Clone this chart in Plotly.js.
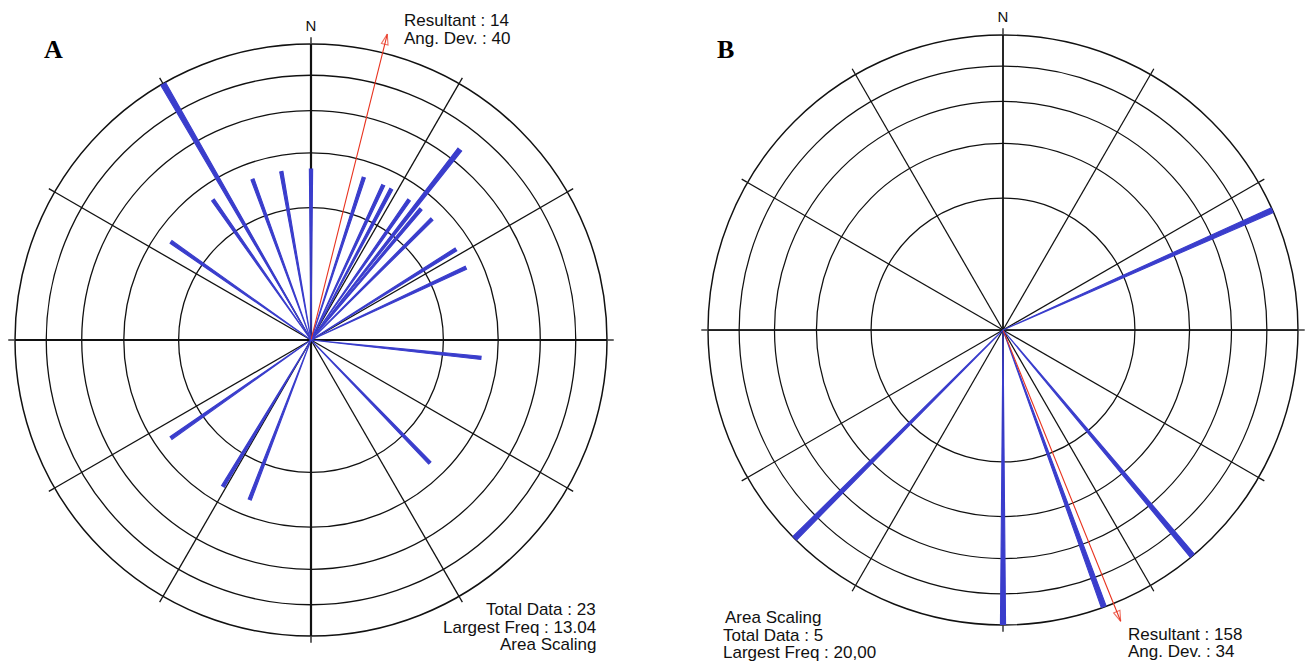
<!DOCTYPE html>
<html>
<head>
<meta charset="utf-8">
<script src="https://cdn.plot.ly/plotly-3.0.1.min.js"></script>
<style>html,body{margin:0;padding:0;background:#fff;}#chart{width:1306px;height:661px;}</style>
</head>
<body>
<div id="chart"></div>
<script>
// ---- Rose diagram A ----
const dirA = [0, 18, 25, 28, 35, 38, 40, 45, 58, 65, 96, 136, 201, 211, 235, 305, 325, 330, 340, 350];
const countA = [1, 1, 1, 1, 1, 2, 1, 1, 1, 1, 1, 1, 1, 1, 1, 1, 1, 3, 1, 1];
const totalA = 23;
const largestFreqA = 13.04;
const resultantA = 14;
const angDevA = 40;

// ---- Rose diagram B ----
const dirB = [66, 140, 160, 180, 225];
const countB = [1, 1, 1, 1, 1];
const totalB = 5;
const largestFreqB = 20.00;
const resultantB = 158;
const angDevB = 34;

const spokeAngles = [0, 30, 60, 90, 120, 150, 180, 210, 240, 270, 300, 330];
const spokeLabels = ['N', '', '', '', '', '', '', '', '', '', '', ''];
const cardinalAngles = [0, 90, 180, 270];
const nRings = 5;

const BLUE = '#3a3dcc';
const RED = '#e8321e';
const INK = '#111111';
const FONT = 'Liberation Sans, Arial, sans-serif';

// area scaling: radius proportional to sqrt(frequency %)
const areaR = (counts, total) => counts.map(c => Math.sqrt(c / total * 100));
const ringVals = (largest) => Array.from({length: nRings - 1}, (_, i) => Math.sqrt(largest * (i + 1) / nRings));

const ARROW_LEN = 1.065;   // resultant arrow overshoots the outer ring
const ARROW_PAD = 1.12;    // radial room of the arrow subplot

function baseTrace(sub) {
  return {type: 'scatterpolar', subplot: sub, r: [0], theta: [0], mode: 'markers',
          marker: {opacity: 0, size: 1}, hoverinfo: 'skip', showlegend: false};
}
function petals(sub, dirs, counts, total, w) {
  return {type: 'barpolar', subplot: sub, r: areaR(counts, total), theta: dirs,
          width: dirs.map(() => w),
          marker: {color: BLUE, line: {color: BLUE, width: 1.1}},
          hoverinfo: 'skip', showlegend: false};
}
function arrow(sub, dir, largest) {
  const L = Math.sqrt(largest) * ARROW_LEN;
  return {type: 'scatterpolar', subplot: sub, r: [0, L], theta: [dir, dir],
          mode: 'lines+markers', cliponaxis: false,
          line: {color: RED, width: 1.1},
          marker: {symbol: 'arrow-open', size: [0, 11], angleref: 'previous',
                   color: RED, line: {color: RED, width: 1.1}},
          hoverinfo: 'skip', showlegend: false};
}

function basePolar(domain, largest, gw) {
  return {
    domain: domain, bgcolor: 'rgba(0,0,0,0)',
    radialaxis: {range: [0, Math.sqrt(largest)], tickmode: 'array', tickvals: ringVals(largest),
                 showticklabels: false, ticks: '', showline: false,
                 gridcolor: INK, gridwidth: gw},
    angularaxis: {direction: 'clockwise', rotation: 90, tickmode: 'array',
                  tickvals: spokeAngles, ticktext: spokeLabels,
                  ticks: 'outside', ticklen: 6, tickcolor: INK, tickwidth: gw,
                  tickfont: {family: FONT, size: 15, color: INK},
                  showline: true, linecolor: INK, linewidth: gw + 0.2,
                  gridcolor: INK, gridwidth: gw}
  };
}
function topPolar(domain, largest, cw) {
  return {
    domain: domain, bgcolor: 'rgba(0,0,0,0)',
    radialaxis: {visible: false, range: [0, Math.sqrt(largest)]},
    angularaxis: {direction: 'clockwise', rotation: 90, tickmode: 'array',
                  tickvals: cardinalAngles, showticklabels: false, ticks: '',
                  showline: false, gridcolor: INK, gridwidth: cw}
  };
}

const W = 1306, H = 661;
function dom(cx, cy, r) {
  return {x: [(cx - r) / W, (cx + r) / W], y: [(H - cy - r) / H, (H - cy + r) / H]};
}

// The arrow sits in its own 45-degree sector subplot (same centre and scale,
// larger radial range) so the arrow can overshoot the outer ring.
function arrowPolar(cx, cy, R, dir, largest) {
  const m = 90 - dir;                       // screen angle, counter-clockwise from east
  const a0 = Math.floor(m / 45) * 45, a1 = a0 + 45;
  const rad = d => d * Math.PI / 180;
  const xs = [0, Math.cos(rad(a0)), Math.cos(rad(a1))];
  const ys = [0, Math.sin(rad(a0)), Math.sin(rad(a1))];
  const Rp = R * ARROW_PAD;
  const xmin = Math.min(...xs), xmax = Math.max(...xs), ymin = Math.min(...ys), ymax = Math.max(...ys);
  const cl = v => Math.max(0, Math.min(1, v));
  return {
    domain: {x: [cl((cx + Rp * xmin) / W), cl((cx + Rp * xmax) / W)],
             y: [cl((H - cy + Rp * ymin) / H), cl((H - cy + Rp * ymax) / H)]},
    sector: [a0, a1], bgcolor: 'rgba(0,0,0,0)',
    radialaxis: {visible: false, range: [0, Math.sqrt(largest) * ARROW_PAD]},
    angularaxis: {visible: false, direction: 'clockwise', rotation: 90}
  };
}

const domA = dom(311, 340, 296);
const domB = dom(1003, 330, 295);

const data = [
  baseTrace('polar'),
  petals('polar2', dirA, countA, totalA, 1.1),
  arrow('polar3', resultantA, largestFreqA),
  baseTrace('polar4'),
  petals('polar5', dirB, countB, totalB, 1.0),
  arrow('polar6', resultantB, largestFreqB)
];

function txt(x, y, text, xanchor, size, extra) {
  return Object.assign({xref: 'paper', yref: 'paper', x: x / W, y: 1 - y / H, text: text,
          showarrow: false, xanchor: xanchor, yanchor: 'middle', align: xanchor,
          font: {family: FONT, size: size || 17, color: INK}}, extra || {});
}
const serif = {font: {family: 'Liberation Serif, Times New Roman, serif', size: 26, color: '#000'}};

const annotations = [
  txt(53, 50, '<b>A</b>', 'center', 26, serif),
  txt(725, 50, '<b>B</b>', 'center', 26, serif),
  txt(402, 21, 'Resultant : ' + resultantA, 'left'),
  txt(402, 38, 'Ang. Dev. : ' + angDevA, 'left'),
  txt(598, 609, 'Total Data : ' + totalA, 'right'),
  txt(598, 627, 'Largest Freq : ' + largestFreqA.toFixed(2), 'right'),
  txt(598, 644, 'Area Scaling', 'right'),
  txt(723, 617, 'Area Scaling', 'left'),
  txt(721, 635, 'Total Data : ' + totalB, 'left'),
  txt(721, 652, 'Largest Freq : ' + largestFreqB.toFixed(2).replace('.', ','), 'left'),
  txt(1126, 634, 'Resultant : ' + resultantB, 'left'),
  txt(1126, 651, 'Ang. Dev. : ' + angDevB, 'left')
];

const layout = {
  width: W, height: H, margin: {l: 0, r: 0, t: 0, b: 0},
  paper_bgcolor: '#ffffff', showlegend: false,
  polar: basePolar(domA, largestFreqA, 1.3),
  polar2: topPolar(domA, largestFreqA, 2.2),
  polar3: arrowPolar(311, 340, 296, resultantA, largestFreqA),
  polar4: basePolar(domB, largestFreqB, 1.25),
  polar5: topPolar(domB, largestFreqB, 1.5),
  polar6: arrowPolar(1003, 330, 295, resultantB, largestFreqB),
  annotations: annotations
};

Plotly.newPlot('chart', data, layout, {displayModeBar: false, staticPlot: true});
</script>
</body>
</html>
